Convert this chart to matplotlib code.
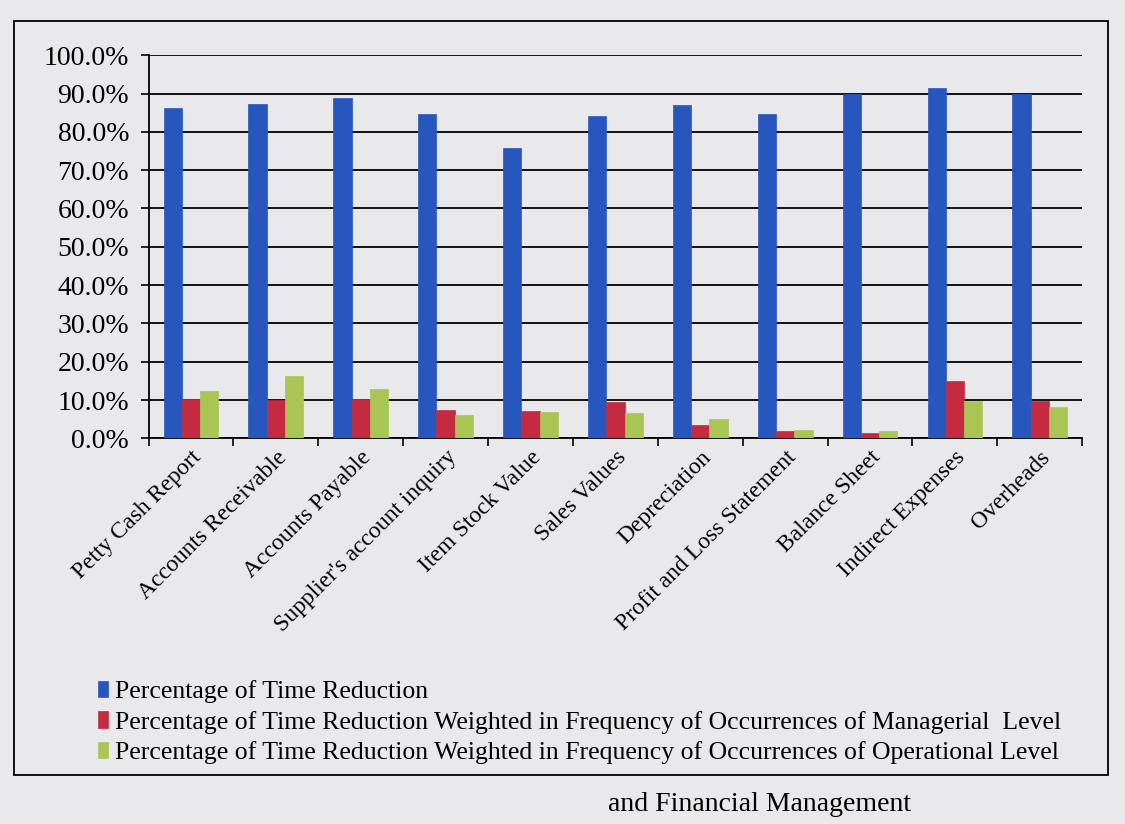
import matplotlib
matplotlib.use("Agg")
import matplotlib.pyplot as plt
import numpy as np
from matplotlib.patches import Rectangle
from matplotlib.ticker import PercentFormatter, FixedLocator

categories = ["Petty Cash Report", "Accounts Receivable", "Accounts Payable",
              "Supplier's account inquiry", "Item Stock Value", "Sales Values",
              "Depreciation", "Profit and Loss Statement", "Balance Sheet",
              "Indirect Expenses", "Overheads"]
time_reduction = [86.3, 87.2, 88.9, 84.6, 75.9, 84.1, 87.0, 84.7, 90.0, 91.4, 90.0]
managerial = [10.2, 10.0, 10.3, 7.4, 7.1, 9.5, 3.5, 1.8, 1.5, 15.0, 9.8]
operational = [12.3, 16.4, 12.8, 6.0, 7.0, 6.7, 5.0, 2.2, 1.8, 9.8, 8.1]
series_labels = ["Percentage of Time Reduction",
                 "Percentage of Time Reduction Weighted in Frequency of Occurrences of Managerial  Level",
                 "Percentage of Time Reduction Weighted in Frequency of Occurrences of Operational Level"]
colors = ["#2656BE", "#C42A40", "#A9C655"]

plt.rcParams['font.family'] = ['Liberation Serif', 'DejaVu Serif']

bg = "#E9E9EB"
fig = plt.figure(figsize=(11.25, 8.24), dpi=100, facecolor=bg)
ax = fig.add_axes([0.132, 0.468, 0.83, 0.465])
ax.set_facecolor(bg)

x = np.arange(len(categories))
w = 0.215
for i, (vals, c, lab) in enumerate(zip([time_reduction, managerial, operational], colors, series_labels)):
    ax.bar(x + (i - 1) * w, vals, width=w, color=c, label=lab, zorder=3,
           edgecolor=c, linewidth=0.5)

ax.set_xlim(-0.5, len(categories) - 0.5)
ax.set_ylim(0, 100)
ax.set_yticks(np.arange(0, 101, 10))
ax.yaxis.set_major_formatter(PercentFormatter(decimals=1))
ax.grid(axis='y', color='black', linewidth=1.3, zorder=1)
ax.set_axisbelow(True)

ax.set_xticks(x)
ax.set_xticklabels(categories, rotation=45, ha='right', rotation_mode='anchor', fontsize=17)
ax.tick_params(axis='x', length=0, pad=6)
ax.xaxis.set_minor_locator(FixedLocator(np.arange(-0.5, len(categories) + 0.5, 1)))
ax.tick_params(axis='x', which='minor', length=6, width=1.2, direction='out')
ax.tick_params(axis='y', labelsize=20, length=6, width=1.2, direction='out', pad=8)

for s in ['top', 'right']:
    ax.spines[s].set_visible(False)
ax.spines['left'].set_linewidth(1.3)
ax.spines['bottom'].set_linewidth(1.3)

handles, labels = ax.get_legend_handles_labels()
leg = fig.legend(handles, labels, loc='lower left', bbox_to_anchor=(0.078, 0.06),
                 frameon=False, fontsize=18.5, handlelength=0.4, handleheight=0.6,
                 handletextpad=0.25, labelspacing=0.3, borderaxespad=0)

frame = Rectangle((0.012, 0.06), 0.973, 0.915, transform=fig.transFigure,
                  fill=False, edgecolor='black', linewidth=1.3)
fig.add_artist(frame)

fig.text(0.54, 0.008, "and Financial Management", fontsize=20, ha='left', va='bottom')

fig.savefig("out.png", dpi=100, facecolor=bg)
